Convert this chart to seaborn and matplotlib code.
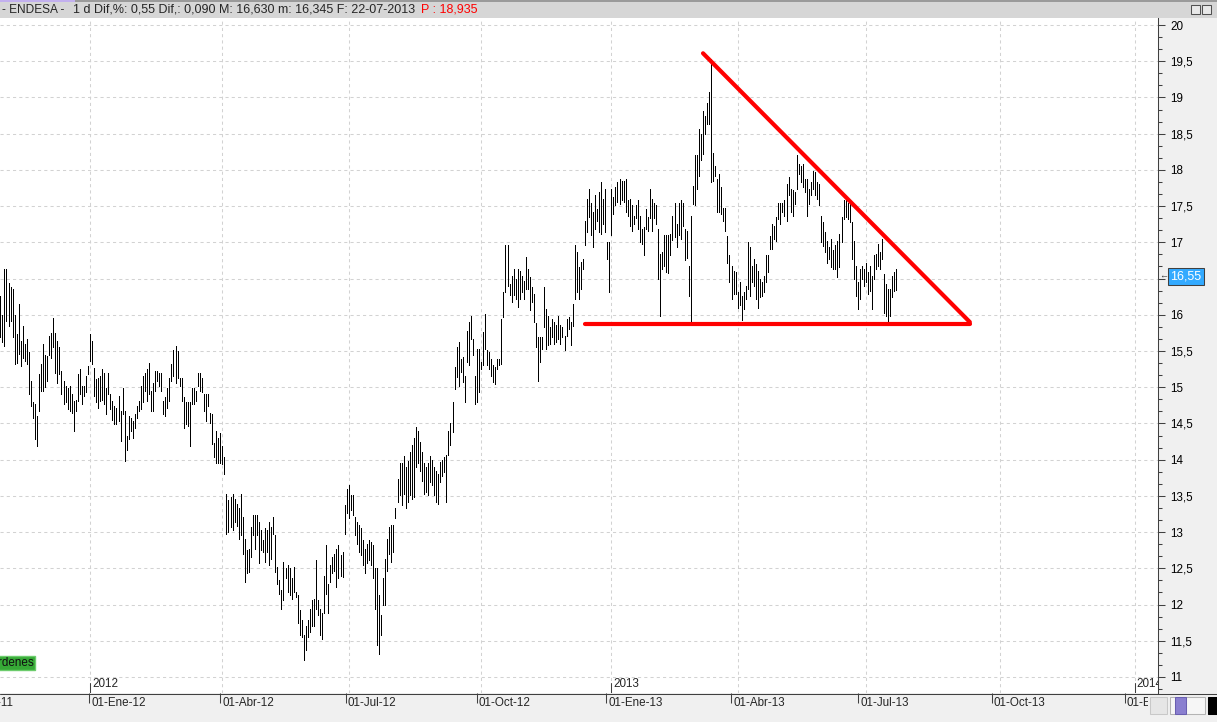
import numpy as np
import pandas as pd
import matplotlib
matplotlib.use("Agg")
import matplotlib.pyplot as plt
import matplotlib.transforms as mtransforms
from matplotlib.patches import Rectangle
from matplotlib.lines import Line2D
from matplotlib.ticker import MultipleLocator, FuncFormatter
import seaborn as sns

# ENDESA, barras diarias (max / min) del 31-10-2011 al 22-07-2013
first_day = "2011-10-31"
last_day = "2013-07-22"
# sesiones sin mercado
holidays = ["2011-12-26", "2012-04-06", "2012-04-09", "2012-05-01", "2012-12-25",
            "2012-12-26", "2013-01-01", "2013-03-29", "2013-04-01", "2013-05-01"]

high_nov_dic11 = [16.26, 16.00, 16.63, 16.63, 16.44, 16.38, 16.35, 16.00, 15.73, 16.15,
                  15.64, 15.85, 15.59, 15.66, 15.48, 15.09, 14.79, 14.77, 14.60, 15.18,
                  15.32, 15.59, 15.45, 15.43, 15.71, 15.75, 15.96, 15.75, 15.64, 15.55,
                  15.22, 15.09, 15.02, 14.99, 15.02, 14.90, 14.81, 14.83, 15.18, 15.25,
                  15.02, 15.02, 15.16, 15.29]
low_nov_dic11 = [15.69, 15.62, 15.57, 15.92, 15.85, 15.92, 15.69, 15.32, 15.34, 15.46,
                 15.29, 15.41, 15.36, 15.32, 14.90, 14.74, 14.58, 14.28, 14.19, 14.67,
                 14.95, 14.95, 15.00, 15.09, 15.45, 15.41, 15.55, 15.20, 15.06, 15.18,
                 14.90, 14.77, 14.79, 14.70, 14.67, 14.65, 14.40, 14.67, 14.81, 14.90,
                 14.77, 14.88, 14.93, 15.18]

high_ene_abr12 = [15.73, 15.64, 15.27, 15.11, 15.13, 15.16, 15.25, 15.20, 14.99, 15.20,
                  14.90, 14.81, 14.74, 14.72, 14.88, 14.67, 14.99, 14.67, 14.33, 14.60,
                  14.58, 14.53, 14.63, 14.74, 14.81, 15.02, 15.16, 15.20, 15.25, 15.34,
                  14.95, 15.06, 15.22, 15.22, 15.20, 15.20, 14.81, 14.86, 14.99, 15.13,
                  15.32, 15.52, 15.57, 15.50, 15.13, 15.13, 14.86, 14.79, 14.79, 14.79,
                  14.99, 14.99, 14.95, 15.20, 15.20, 15.13, 14.90, 14.90, 14.90, 14.65,
                  14.63, 14.23, 14.39, 14.30, 14.37, 14.19, 14.03]
low_ene_abr12 = [15.36, 15.32, 14.88, 14.79, 14.72, 14.81, 14.83, 14.77, 14.63, 14.90,
                 14.70, 14.55, 14.49, 14.49, 14.53, 14.26, 14.63, 13.98, 14.13, 14.28,
                 14.40, 14.30, 14.44, 14.58, 14.67, 14.70, 14.79, 14.95, 14.81, 14.90,
                 14.67, 14.67, 14.95, 15.09, 15.02, 14.95, 14.63, 14.60, 14.72, 14.81,
                 15.09, 15.16, 15.06, 15.13, 15.02, 14.81, 14.44, 14.49, 14.47, 14.19,
                 14.77, 14.77, 14.81, 15.02, 14.95, 14.93, 14.67, 14.53, 14.74, 14.51,
                 14.21, 14.03, 13.96, 13.96, 13.96, 13.94, 13.80]

high_abr_ago12 = [13.53, 13.44, 13.49, 13.53, 13.46, 13.39, 13.33, 13.53, 13.21, 12.91,
                  12.75, 12.77, 13.07, 13.23, 13.23, 13.23, 13.14, 13.03, 12.89, 13.05,
                  13.03, 13.14, 13.07, 13.21, 12.96, 12.52, 12.34, 12.20, 12.59, 12.50,
                  12.54, 12.50, 12.36, 12.52, 12.17, 12.13, 11.92, 11.78, 11.58, 11.71,
                  11.78, 11.94, 12.06, 12.08, 12.61, 12.06, 11.94, 11.88, 12.40, 12.82,
                  12.29, 12.54, 12.66, 12.70, 12.77, 12.82, 12.68, 12.73, 13.37, 13.60,
                  13.65, 13.51, 13.51, 13.21, 13.14, 13.10, 13.05, 12.89, 12.77, 12.84,
                  12.89, 12.86, 12.82, 12.50, 12.50, 12.13, 11.85, 12.36, 12.63, 12.91,
                  13.07, 13.10, 13.10, 13.33, 13.74, 13.95]
low_abr_ago12 = [12.98, 13.00, 13.07, 13.03, 13.14, 13.09, 12.91, 12.96, 12.70, 12.31,
                 12.43, 12.45, 12.66, 12.96, 12.77, 12.96, 12.57, 12.75, 12.73, 12.59,
                 12.73, 12.54, 12.63, 12.98, 12.45, 12.29, 12.15, 11.94, 12.06, 12.36,
                 12.17, 12.13, 12.08, 12.17, 12.10, 11.74, 11.58, 11.55, 11.23, 11.37,
                 11.55, 11.62, 11.71, 11.71, 11.94, 11.85, 11.58, 11.53, 11.88, 12.15,
                 11.88, 12.31, 12.43, 12.47, 12.24, 12.36, 12.40, 12.38, 12.98, 13.26,
                 13.19, 13.30, 13.23, 12.96, 12.84, 12.73, 12.68, 12.54, 12.43, 12.57,
                 12.61, 12.54, 12.36, 11.94, 11.44, 11.32, 11.58, 11.99, 11.99, 12.47,
                 12.70, 12.59, 12.73, 13.19, 13.42, 13.51]

high_ago12 = [13.95, 14.05, 13.90, 13.98, 14.10, 14.20, 14.30, 14.45, 14.40, 14.25,
              14.10, 13.95, 13.90, 13.95, 14.05, 14.00, 13.90, 13.85, 13.80]
low_ago12 = [13.37, 13.53, 13.33, 13.42, 13.51, 13.46, 13.49, 13.90, 13.95, 13.85,
             13.70, 13.53, 13.55, 13.51, 13.69, 13.65, 13.51, 13.42, 13.39]

high_sep12_feb13 = [13.97, 13.99, 14.03, 14.06, 14.40, 14.50, 14.79, 15.28, 15.55, 15.62,
                    15.39, 15.42, 15.16, 15.78, 15.90, 15.99, 15.67, 15.16, 15.53, 15.53,
                    15.35, 15.76, 16.01, 15.51, 15.48, 15.39, 15.30, 15.28, 15.39, 15.39,
                    15.94, 16.31, 16.96, 16.96, 16.43, 16.54, 16.63, 16.50, 16.63, 16.61,
                    16.54, 16.47, 16.80, 16.63, 16.52, 16.38, 16.29, 15.88, 15.69, 15.69,
                    15.69, 16.38, 16.08, 15.99, 15.83, 15.94, 15.90, 15.86, 15.99, 15.86,
                    15.83, 15.71, 15.94, 15.97, 15.90, 16.15, 16.96, 16.86, 16.66, 16.73,
                    16.77, 17.30, 17.60, 17.74, 17.55, 17.42, 17.65, 17.46, 17.69, 17.83,
                    17.60, 17.74, 17.00, 17.00, 17.74, 17.62, 17.76, 17.83, 17.88, 17.85,
                    17.85, 17.88, 17.58, 17.60, 17.51, 17.37, 17.51, 17.58, 17.37, 17.19,
                    17.21, 17.46, 17.35, 17.74, 17.60, 17.55, 17.51, 17.19, 16.84, 16.86,
                    17.10, 17.10, 17.10, 17.12, 17.37, 17.55, 17.26, 17.55]
low_sep12_feb13 = [13.69, 13.78, 13.83, 13.41, 14.06, 14.20, 14.38, 14.98, 15.14, 15.02,
                   15.21, 15.07, 14.79, 15.35, 15.30, 15.67, 15.44, 14.77, 14.79, 14.93,
                   15.25, 15.30, 15.53, 15.30, 15.25, 15.16, 15.07, 15.05, 15.25, 15.30,
                   15.32, 15.97, 16.31, 16.40, 16.27, 16.17, 16.27, 16.22, 16.11, 16.22,
                   16.31, 16.22, 16.36, 16.36, 16.06, 16.17, 15.90, 15.55, 15.09, 15.35,
                   15.53, 15.83, 15.53, 15.58, 15.60, 15.69, 15.60, 15.62, 15.67, 15.60,
                   15.69, 15.51, 15.71, 15.81, 15.58, 15.85, 16.22, 16.31, 16.22, 16.36,
                   16.63, 16.96, 17.14, 17.35, 17.10, 16.93, 17.19, 17.30, 17.14, 17.12,
                   17.26, 17.14, 16.77, 16.31, 17.10, 17.39, 17.51, 17.56, 17.53, 17.58,
                   17.56, 17.42, 17.37, 17.23, 17.16, 17.26, 17.33, 17.19, 17.00, 16.98,
                   16.82, 17.19, 17.16, 17.33, 17.16, 17.33, 17.26, 16.50, 15.99, 16.63,
                   16.68, 16.59, 16.57, 16.82, 17.03, 17.07, 16.93, 17.10]

high_feb_jul13 = [17.58, 17.55, 17.19, 17.16, 16.68, 17.37, 17.78, 18.20, 18.20, 18.57,
                  18.50, 18.82, 18.75, 18.93, 19.07, 19.53, 18.24, 18.06, 17.88, 17.94,
                  17.76, 17.48, 17.48, 17.09, 16.82, 16.68, 16.61, 16.59, 16.31, 16.45,
                  16.26, 16.31, 16.40, 17.00, 16.93, 16.68, 16.77, 16.70, 16.61, 16.50,
                  16.45, 16.54, 16.82, 16.82, 17.09, 17.25, 17.23, 17.35, 17.55, 17.55,
                  17.55, 17.58, 17.81, 17.90, 17.74, 17.72, 17.69, 18.20, 18.08, 18.06,
                  18.08, 17.88, 17.88, 17.74, 17.83, 17.99, 17.97, 17.83, 17.81, 17.37,
                  17.28, 17.14, 17.02, 16.93, 17.05, 16.89, 16.96, 17.02, 17.12, 17.35,
                  17.58, 17.58, 17.55, 17.53, 17.28, 17.02, 16.68, 16.45, 16.63, 16.68,
                  16.63, 16.72, 16.59, 16.68, 16.54, 16.82, 16.84, 16.98, 16.86, 17.05,
                  16.56, 16.42, 16.35, 16.35, 16.54, 16.59, 16.63]
low_feb_jul13 = [17.05, 17.23, 16.75, 16.79, 16.26, 15.90, 17.53, 17.51, 17.74, 17.92,
                 18.13, 18.22, 18.50, 18.63, 18.63, 17.83, 17.85, 17.92, 17.42, 17.42,
                 17.39, 17.30, 17.16, 16.72, 16.45, 16.22, 16.29, 16.29, 16.10, 16.13,
                 15.93, 16.08, 16.22, 16.36, 16.26, 16.45, 16.40, 16.22, 16.10, 16.24,
                 16.26, 16.31, 16.45, 16.59, 16.91, 16.91, 17.05, 17.02, 17.32, 17.25,
                 17.42, 17.37, 17.30, 17.65, 17.42, 17.37, 17.53, 17.74, 17.94, 17.83,
                 17.76, 17.69, 17.37, 17.53, 17.65, 17.74, 17.65, 17.60, 17.51, 17.00,
                 16.95, 16.86, 16.72, 16.77, 16.66, 16.63, 16.63, 16.52, 16.66, 17.00,
                 17.32, 17.35, 17.32, 17.28, 16.77, 16.50, 16.26, 16.08, 16.22, 16.50,
                 16.40, 16.45, 16.29, 16.33, 16.08, 16.50, 16.63, 16.68, 16.63, 16.77,
                 16.03, 15.99, 15.92, 15.99, 16.24, 16.33, 16.345]

# lineas del triangulo descendente
support_days = ["2012-12-11", "2013-09-10"]
support_price = [15.87, 15.87]
resist_days = ["2013-03-06", "2013-09-10"]
resist_price = [19.61, 15.90]

last_price = 16.55
header_name = "- ENDESA -"
header = "1 d Dif,%: 0,55 Dif,: 0,090 M: 16,630 m: 16,345 F: 22-07-2013"
header_red = "P : 18,935"
meses = ["Ene", "Feb", "Mar", "Abr", "May", "Jun", "Jul", "Ago", "Sep", "Oct", "Nov", "Dic"]

high = high_nov_dic11 + high_ene_abr12 + high_abr_ago12 + high_ago12 + high_sep12_feb13 + high_feb_jul13
low = low_nov_dic11 + low_ene_abr12 + low_abr_ago12 + low_ago12 + low_sep12_feb13 + low_feb_jul13

# eje x = numero de sesion
cal = pd.bdate_range("2011-10-01", "2014-01-31", freq="C", holidays=holidays)
origin = cal.get_loc(pd.Timestamp(first_day))
days = cal[(cal >= first_day) & (cal <= last_day)]
pos = cal.get_indexer(days) - origin


def day_pos(d):
    return cal.searchsorted(pd.Timestamp(d)) - origin


bars = pd.DataFrame({
    "pos": np.repeat(pos, 2),
    "price": np.column_stack([low, high]).ravel(),
    "bar": np.repeat(pos, 2),
})
trend = pd.DataFrame({
    "pos": [day_pos(d) for d in support_days + resist_days],
    "price": support_price + resist_price,
    "line": ["soporte", "soporte", "resistencia", "resistencia"],
})

tick_dates = pd.date_range("2011-10-01", "2014-01-01", freq="QS")
tick_pos = [day_pos(d) for d in tick_dates]
tick_labels = [f"01-{meses[d.month - 1]}-{d:%y}" for d in tick_dates]

W, H = 1217, 722
sns.set_style("white")
plt.rcParams["font.family"] = ["Liberation Sans", "DejaVu Sans"]
FS = 8.4

fig = plt.figure(figsize=(W / 100, H / 100), dpi=100, facecolor="#f0f0f0")
ax = fig.add_axes([0, 1 - 693 / H, 1158 / W, 675 / H])
ax.set_facecolor("white")
ax.set_axisbelow(True)

sns.lineplot(data=bars, x="pos", y="price", units="bar", estimator=None, sort=False,
             color="black", linewidth=0.7, ax=ax, legend=False)
for ln in ax.lines:
    ln.set_antialiased(False)
sns.lineplot(data=trend, x="pos", y="price", units="line", estimator=None, sort=False,
             color="#ff0000", linewidth=3.0, ax=ax, legend=False)
ax.set_xlabel("")
ax.set_ylabel("")

# eje de precios a la derecha
ax.yaxis.tick_right()
ax.yaxis.set_major_locator(MultipleLocator(0.5))
ax.yaxis.set_minor_locator(MultipleLocator(0.5 / 3))
ax.yaxis.set_major_formatter(FuncFormatter(lambda v, p: f"{v:g}".replace(".", ",")))
ax.tick_params(axis="y", which="major", direction="out", length=5, width=0.75,
               color="#404040", pad=3.6, labelsize=FS, labelcolor="black")
ax.tick_params(axis="y", which="minor", direction="out", length=2.9, width=0.75, color="#404040")
ax.set_xticks(tick_pos)
ax.tick_params(axis="x", length=0, labelbottom=False)
ax.grid(axis="both", which="major", color="#d2d2d2", linestyle=(0, (3, 3)), linewidth=0.75)
for s in ["top", "left", "bottom"]:
    ax.spines[s].set_visible(False)
ax.spines["right"].set_color("#404040")
ax.spines["right"].set_linewidth(0.75)

# marcas de año
year_tr = mtransforms.blended_transform_factory(ax.transData, ax.transAxes)
year_txt = mtransforms.offset_copy(year_tr, fig=fig, x=2, y=3, units="dots")
for p, d in zip(tick_pos, tick_dates):
    if d.month == 1:
        ax.plot([p, p], [0, 10 / 675], transform=year_tr, color="#404040", lw=0.75)
        ax.text(p, 0, str(d.year), transform=year_txt, ha="left", va="bottom",
                fontsize=FS, clip_on=True)

# etiqueta del ultimo precio
ptr = mtransforms.blended_transform_factory(ax.transAxes, ax.transData)
ax.text(1, last_price, "16,55", transform=mtransforms.offset_copy(ptr, fig=fig, x=12, y=-1.5, units="dots"),
        ha="left", va="center", color="white", fontsize=9, zorder=6,
        bbox=dict(boxstyle="square,pad=0.2", facecolor="#33aaff", edgecolor="#404040", lw=0.75))
ax.text(1, last_price, "\u2190", transform=mtransforms.offset_copy(ptr, fig=fig, x=1, y=-1, units="dots"),
        ha="left", va="center", color="#404040", fontsize=6.5, zorder=6)

# etiqueta verde "Ordenes"
ax.add_patch(Rectangle((-0.01, (693 - 670) / 675), 0.01 + 35 / 1158, 14 / 675,
                       transform=ax.transAxes, facecolor="#36a936", edgecolor="#6ccc6c", lw=1))
ax.text(34 / 1158, (693 - 663) / 675, "Órdenes", transform=ax.transAxes, ha="right",
        va="center", fontsize=FS, color="#101010", clip_on=True)

ax.set_xlim(-0.19, 568.4)
ax.set_ylim(10.779, 20.097)

# franja de fechas
bx = fig.add_axes([0, 1 - 715 / H, 1148 / W, 22 / H])
bx.set_xlim(ax.get_xlim())
bx.set_ylim(22, 0)
bx.axis("off")
bx.vlines(tick_pos, 0, 10, color="#404040", linewidth=0.75)
lab_tr = mtransforms.offset_copy(bx.transData, fig=fig, x=2, y=0, units="dots")
for p, lab in zip(tick_pos, tick_labels):
    bx.text(p, 9.5, lab, transform=lab_tr, ha="left", va="center", fontsize=FS, clip_on=True)

# cabecera
fig.add_artist(Rectangle((0, 1 - 18 / H), 1, 18 / H, transform=fig.transFigure,
                         facecolor="#d6d6d6", edgecolor="none", zorder=-2))
fig.add_artist(Rectangle((0, 1 - 2 / H), 1, 2 / H, transform=fig.transFigure,
                         facecolor="#9a9a9a", edgecolor="none", zorder=-1))
fig.add_artist(Rectangle((0, 1 - 2 / H), 75 / W, 2 / H, transform=fig.transFigure,
                         facecolor="#c2b0ee", edgecolor="none", zorder=-1))
fig.text(2 / W, 1 - 10 / H, header_name, ha="left", va="center", fontsize=8.6)
t = fig.text(73 / W, 1 - 10 / H, header, ha="left", va="center", fontsize=9.0)
fig.canvas.draw()
bb = t.get_window_extent()
fig.text((bb.x1 + 6) / W, 1 - 10 / H, header_red, ha="left", va="center", fontsize=9.0,
         color="#ff0000")
fig.add_artist(Line2D([0, 1], [1 - 693.5 / H] * 2, transform=fig.transFigure,
                      color="#404040", lw=0.75))

# iconos de la esquina
for x0, w, fc, ec in [(1150, 17, "#e6e6e6", "#c8c8c8"), (1170, 35, "#f6f6f6", "#b4b4b4"),
                      (1175, 11, "#8a7fd0", "#6a5fb0"), (1208, 9, "#000000", "#000000")]:
    fig.add_artist(Rectangle((x0 / W, 1 - 714 / H), w / W, 17 / H, transform=fig.transFigure,
                             facecolor=fc, edgecolor=ec, lw=0.75))
for x0 in [1191, 1202]:
    fig.add_artist(Rectangle((x0 / W, 1 - 14 / H), 9 / W, 9 / H, transform=fig.transFigure,
                             facecolor="#e8e8e8", edgecolor="#505050", lw=0.75))

fig.savefig("out.png", dpi=100, facecolor=fig.get_facecolor())
